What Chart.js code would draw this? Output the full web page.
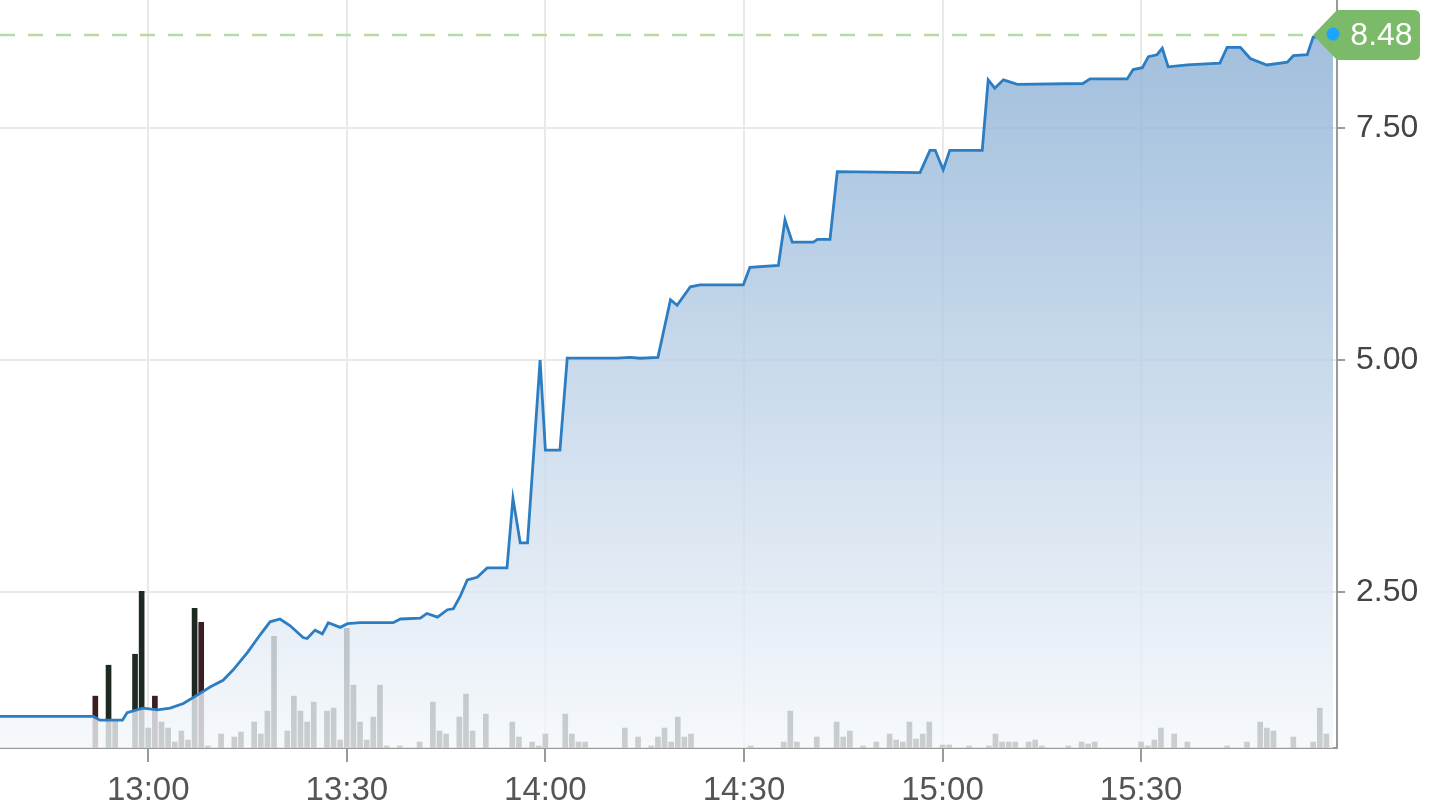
<!DOCTYPE html>
<html lang="en">
<head>
<meta charset="UTF-8">
<title>Intraday price</title>
<script src="https://cdn.jsdelivr.net/npm/chart.js"></script>
<style>
  html, body { margin: 0; padding: 0; background: #fff; }
  #wrap { width: 1440px; height: 812px; position: relative; }
</style>
</head>
<body>
<div id="wrap"><canvas id="priceChart"></canvas></div>
<script>
// price line: time in minutes of the day, price in $
const priceTimes = [757.6, 771.7, 772.7, 776.1, 776.8, 779.2, 781.4, 783.3, 785.3, 787.4,
  789.4, 791.3, 792.8, 795.0, 796.9, 798.4, 799.9, 801.4, 803.4, 804.0,
  805.2, 806.3, 807.2, 809.0, 810.1, 812.0, 817.0, 818.1, 821.1, 822.1,
  823.7, 825.2, 826.1, 827.1, 828.2, 829.7, 831.2, 834.2, 835.1, 836.2,
  837.3, 839.2, 840.0, 842.2, 843.3, 850.8, 852.8, 854.3, 857.0, 858.9,
  859.9, 861.9, 863.4, 869.9, 870.9, 875.2, 876.2, 877.3, 880.5, 881.1,
  883.0, 884.1, 896.6, 898.1, 898.9, 900.1, 901.1, 906.0, 906.9, 907.9,
  909.2, 911.3, 921.2, 922.3, 927.9, 928.8, 930.2, 931.1, 932.4, 933.2,
  934.1, 937.0, 941.9, 943.0, 945.0, 946.5, 949.0, 952.1, 953.0, 955.1,
  956.0, 959.0];
const prices = [1.16, 1.16, 1.12, 1.12, 1.20, 1.25, 1.23, 1.25, 1.30, 1.39,
  1.48, 1.55, 1.66, 1.85, 2.04, 2.18, 2.21, 2.14, 2.01, 2.00,
  2.09, 2.05, 2.17, 2.12, 2.16, 2.17, 2.17, 2.21, 2.22, 2.27,
  2.23, 2.31, 2.32, 2.45, 2.63, 2.66, 2.76, 2.76, 3.51, 3.03,
  3.03, 5.00, 4.03, 4.03, 5.02, 5.02, 5.03, 5.02, 5.03, 5.65,
  5.59, 5.79, 5.81, 5.81, 6.00, 6.02, 6.51, 6.27, 6.27, 6.30,
  6.30, 7.03, 7.02, 7.26, 7.26, 7.05, 7.26, 7.26, 8.02, 7.93,
  8.02, 7.97, 7.98, 8.03, 8.03, 8.13, 8.15, 8.27, 8.29, 8.36,
  8.16, 8.18, 8.20, 8.37, 8.37, 8.25, 8.18, 8.21, 8.28, 8.29,
  8.48, 8.48];

// volume per minute (thousands of shares)
const volTimes = [772, 774, 775, 778, 779, 780, 781, 782, 783, 784,
  785, 786, 787, 788, 789, 791, 793, 794, 796, 797,
  798, 799, 801, 802, 803, 804, 805, 807, 808, 809,
  810, 811, 812, 813, 814, 815, 816, 818, 821, 823,
  824, 825, 827, 828, 829, 831, 835, 836, 838, 839,
  840, 843, 844, 845, 846, 852, 854, 856, 857, 858,
  859, 860, 861, 862, 871, 876, 877, 878, 881, 884,
  885, 886, 888, 890, 892, 893, 894, 895, 896, 897,
  898, 900, 901, 904, 907, 908, 909, 910, 911, 913,
  914, 915, 919, 921, 922, 923, 930, 931, 932, 933,
  935, 937, 943, 946, 948, 949, 950, 953, 956, 957,
  958];
const volumes = [52, 83, 27, 94, 157, 20, 52, 26, 20, 6,
  17, 8, 140, 126, 2, 14, 11, 16, 26, 14,
  37, 112, 17, 52, 37, 26, 46, 37, 40, 8,
  120, 63, 26, 8, 31, 63, 2, 2, 6, 46,
  17, 14, 31, 54, 17, 34, 26, 11, 6, 2,
  14, 34, 14, 6, 6, 20, 11, 2, 11, 20,
  6, 31, 11, 14, 2, 6, 37, 6, 11, 26,
  11, 17, 2, 6, 14, 8, 6, 26, 9, 14,
  26, 3, 3, 2, 2, 14, 6, 6, 6, 6,
  8, 2, 2, 6, 4, 6, 6, 2, 8, 20,
  14, 6, 2, 6, 26, 20, 17, 11, 6, 40,
  14];
const downMinutes = [772, 781, 788];

const xTickLabels = ['13:00', '13:30', '14:00', '14:30', '15:00', '15:30'];
const yTickValues = [2.5, 5, 7.5];

function toMinutes(s) {
  const p = s.split(':');
  return +p[0] * 60 + +p[1];
}

const lastPrice = prices[prices.length - 1];
const lastTime = priceTimes[priceTimes.length - 1];

// dashed last-price line under the series, green tag + dot on top
const lastPricePlugin = {
  id: 'lastPrice',
  beforeDatasetsDraw(chart) {
    const c = chart.ctx, area = chart.chartArea;
    const y = chart.scales.y.getPixelForValue(lastPrice) - 2;
    const tip = chart.scales.x.getPixelForValue(lastTime) - 20;
    c.save();
    c.strokeStyle = '#b6dca4';
    c.lineWidth = 2.5;
    c.setLineDash([15, 13]);
    c.beginPath();
    c.moveTo(area.left, y);
    c.lineTo(tip, y);
    c.stroke();
    c.restore();
  },
  afterDatasetsDraw(chart) {
    const c = chart.ctx;
    const px = chart.scales.x.getPixelForValue(lastTime);
    const y = chart.scales.y.getPixelForValue(lastPrice) - 2;
    const tip = px - 20;
    const left = chart.scales.y.left;
    const right = left + 83, top = y - 25, bottom = y + 25, r = 6;
    c.save();
    c.fillStyle = '#7aba69';
    c.beginPath();
    c.moveTo(tip, y);
    c.lineTo(left, top);
    c.lineTo(right - r, top);
    c.quadraticCurveTo(right, top, right, top + r);
    c.lineTo(right, bottom - r);
    c.quadraticCurveTo(right, bottom, right - r, bottom);
    c.lineTo(left, bottom);
    c.closePath();
    c.fill();
    c.fillStyle = '#fff';
    c.font = '32px "Liberation Sans", Arial, sans-serif';
    c.textAlign = 'center';
    c.textBaseline = 'middle';
    c.fillText(lastPrice.toFixed(2), (left + right) / 2 + 3, y + 1);
    c.fillStyle = '#1aa6ff';
    c.beginPath();
    c.arc(px, y - 1, 6.5, 0, Math.PI * 2);
    c.fill();
    c.restore();
  }
};

const ctx = document.getElementById('priceChart').getContext('2d');
new Chart(ctx, {
  type: 'line',
  data: {
    datasets: [
      {
        type: 'line',
        label: 'Price',
        data: priceTimes.map((t, i) => ({ x: t, y: prices[i] })),
        borderColor: '#2c7dc2',
        borderWidth: 2.8,
        pointRadius: 0,
        tension: 0,
        fill: 'start',
        backgroundColor: (context) => {
          const area = context.chart.chartArea;
          if (!area) return 'rgba(0,0,0,0)';
          const g = context.chart.ctx.createLinearGradient(0, area.top, 0, area.bottom);
          g.addColorStop(0, 'rgba(132,171,210,0.8)');
          g.addColorStop(1, 'rgba(244,247,251,0.8)');
          return g;
        },
        order: 0
      },
      {
        type: 'bar',
        label: 'Volume',
        yAxisID: 'vol',
        data: volTimes.map((t, i) => ({ x: t, y: volumes[i] })),
        backgroundColor: volTimes.map(t => downMinutes.includes(t) ? '#3b1e21' : '#1e2a21'),
        barThickness: 5,
        order: 1
      }
    ]
  },
  options: {
    responsive: true,
    maintainAspectRatio: false,
    animation: false,
    layout: { padding: 0 },
    plugins: { legend: { display: false }, tooltip: { enabled: false } },
    scales: {
      x: {
        type: 'linear',
        position: 'bottom',
        min: 757.6,
        max: 959.6,
        offset: false,
        afterBuildTicks: (s) => { s.ticks = xTickLabels.map(l => ({ value: toMinutes(l) })); },
        afterFit: (s) => { s.height = 64; s.paddingLeft = 0; s.paddingRight = 0; },
        grid: { color: '#e9e9e9', lineWidth: 2, tickColor: '#999', tickLength: 14, offset: false },
        border: { color: '#999', width: 2 },
        ticks: {
          color: '#555',
          font: { family: '"Liberation Sans", Arial, sans-serif', size: 33 },
          padding: 9,
          maxRotation: 0,
          autoSkip: false,
          callback: (v, i) => xTickLabels[i]
        }
      },
      y: {
        position: 'right',
        min: 0.82,
        max: 8.88,
        afterBuildTicks: (s) => { s.ticks = yTickValues.map(v => ({ value: v })); },
        afterFit: (s) => { s.width = 103; s.paddingTop = 0; s.paddingBottom = 0; },
        grid: { color: '#e9e9e9', lineWidth: 2, tickColor: '#999', tickLength: 8 },
        border: { color: '#999', width: 2 },
        ticks: {
          color: '#444',
          font: { family: '"Liberation Sans", Arial, sans-serif', size: 32 },
          padding: 11,
          callback: (v) => v.toFixed(2)
        }
      },
      vol: {
        display: false,
        min: 0,
        max: 750
      }
    }
  },
  plugins: [lastPricePlugin]
});
</script>
</body>
</html>
